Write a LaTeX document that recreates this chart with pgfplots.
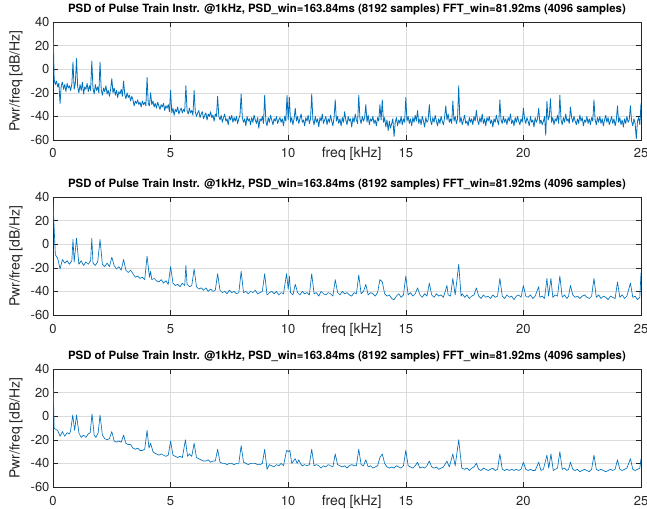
\documentclass[border=0pt]{standalone}
\usepackage{fontspec}
\setmainfont{TeX Gyre Heros}
\usepackage{pgfplots}
\pgfplotsset{compat=1.18}
\definecolor{mlblue}{rgb}{0,0.447,0.741}
\definecolor{axgray}{rgb}{0.15,0.15,0.15}
\pgfplotsset{
  psd/.style={
    width=588pt, height=118pt, scale only axis,
    xmin=0, xmax=25, ymin=-60, ymax=40,
    xtick={0,5,10,15,20,25}, ytick={-60,-40,-20,0,20,40},
    grid=major,
    major grid style={black!14, line width=0.5pt},
    axis line style={axgray, line width=0.5pt},
    tick style={axgray, line width=0.5pt},
    major tick length=5pt,
    tick align=inside,
    /pgf/number format/assume math mode=true,
    ticklabel style={font=\fontsize{13}{15}\selectfont, text=axgray},
    xticklabel style={anchor=base, yshift=-18pt},
    title style={font=\fontsize{11.4}{13}\selectfont\bfseries, at={(axis description cs:0.5,1)}, anchor=south, yshift=-3pt},
    title={PSD of Pulse Train Instr. @1kHz, PSD\_win=163.84ms (8192 samples) FFT\_win=81.92ms (4096 samples)},
    xlabel={freq [kHz]},
    ylabel={Pwr/freq [dB/Hz]},
    xlabel style={font=\fontsize{14}{16}\selectfont, text=axgray, at={(axis description cs:0.508,0)}, anchor=base, yshift=-18pt},
    ylabel style={font=\fontsize{14}{16}\selectfont, text=axgray, at={(axis description cs:-0.0629,0.5)}, anchor=center},
  },
  psdline/.style={mlblue, line width=0.65pt, mark=none, line join=round},
}
\begin{document}
\begin{tikzpicture}
\path[use as bounding box] (-53pt,-368pt) rectangle (594pt,140pt);
% ---------------- top -----------------
\begin{axis}[psd, at={(0pt,0pt)}, anchor=south west]
\addplot[psdline, line width=0.8pt] coordinates {
(0.00,38)(0.05,-9)(0.10,-13)(0.15,-10)(0.20,-15)(0.25,-12)(0.30,-29)(0.35,-14)(0.40,-11)(0.45,-17)(0.50,-13)(0.55,-19)(0.60,-12)(0.65,-16)(0.70,-14)(0.75,-18)(0.80,-13)(0.85,6)(0.90,-17)(0.95,-12)
(1.00,9)(1.05,-15)(1.10,-20)(1.15,-13)(1.20,-18)(1.25,-11)(1.30,-21)(1.35,-15)(1.40,-17)(1.45,-12)(1.50,-19)(1.55,-14)(1.60,-18)(1.65,7)(1.70,-16)(1.75,-21)(1.80,-13)(1.85,-18)(1.90,-15)(1.95,-20)
(2.00,6)(2.05,-17)(2.10,-22)(2.15,-16)(2.20,-19)(2.25,-14)(2.30,-21)(2.35,-18)(2.40,-23)(2.45,-17)(2.50,-8)(2.55,-20)(2.60,-16)(2.65,-22)(2.70,-18)(2.75,-24)(2.80,-19)(2.85,-21)(2.90,-17)(2.95,-23)
(3.00,-10)(3.05,-21)(3.10,-25)(3.15,-20)(3.20,-24)(3.25,-22)(3.30,-27)(3.35,-23)(3.40,-26)(3.45,-31)(3.50,-27)(3.55,-29)(3.60,-26)(3.65,-30)(3.70,-28)(3.75,-32)(3.80,-27)(3.85,-30)(3.90,-28)(3.95,-31)
(4.00,-7)(4.05,-29)(4.10,-31)(4.15,-20)(4.20,-30)(4.25,-27)(4.30,-32)(4.35,-29)(4.40,-33)(4.45,-28)(4.50,-31)(4.55,-34)(4.60,-30)(4.65,-32)(4.70,-29)(4.75,-35)(4.80,-31)(4.85,-33)(4.90,-30)(4.95,-36)
(5.00,-18)(5.05,-37)(5.10,-33)(5.15,-39)(5.20,-34)(5.25,-36)(5.30,-32)(5.35,-38)(5.40,-35)(5.45,-33)(5.50,-37)(5.55,-34)(5.60,-36)(5.65,-14)(5.70,-35)(5.75,-38)(5.80,-33)(5.85,-37)(5.90,-35)(5.95,-39)
(6.00,-18)(6.05,-36)(6.10,-40)(6.15,-37)(6.20,-35)(6.25,-41)(6.30,-38)(6.35,-36)(6.40,-42)(6.45,-39)(6.50,-37)(6.55,-43)(6.60,-38)(6.65,-40)(6.70,-36)(6.75,-41)(6.80,-39)(6.85,-44)(6.90,-38)(6.95,-40)
(7.00,-23)(7.05,-40)(7.10,-43)(7.15,-39)(7.20,-45)(7.25,-41)(7.30,-38)(7.35,-44)(7.40,-42)(7.45,-47)(7.50,-40)(7.55,-43)(7.60,-39)(7.65,-45)(7.70,-41)(7.75,-44)(7.80,-40)(7.85,-46)(7.90,-42)(7.95,-39)
(8.00,-21)(8.05,-41)(8.10,-45)(8.15,-42)(8.20,-48)(8.25,-40)(8.30,-44)(8.35,-42)(8.40,-47)(8.45,-41)(8.50,-45)(8.55,-39)(8.60,-43)(8.65,-46)(8.70,-41)(8.75,-50)(8.80,-42)(8.85,-44)(8.90,-40)(8.95,-46)
(9.00,-22)(9.05,-44)(9.10,-48)(9.15,-41)(9.20,-45)(9.25,-39)(9.30,-43)(9.35,-47)(9.40,-42)(9.45,-44)(9.50,-40)(9.55,-46)(9.60,-43)(9.65,-41)(9.70,-45)(9.75,-42)(9.80,-48)(9.85,-40)(9.90,-44)(9.95,-22)
(10.00,-43)(10.05,-24)(10.10,-45)(10.15,-41)(10.20,-47)(10.25,-42)(10.30,-33)(10.35,-44)(10.40,-40)(10.45,-46)(10.50,-42)(10.55,-38)(10.60,-45)(10.65,-43)(10.70,-48)(10.75,-41)(10.80,-44)(10.85,-39)(10.90,-46)(10.95,-42)
(11.00,-21)(11.05,-43)(11.10,-47)(11.15,-40)(11.20,-45)(11.25,-42)(11.30,-49)(11.35,-41)(11.40,-44)(11.45,-38)(11.50,-46)(11.55,-43)(11.60,-40)(11.65,-47)(11.70,-42)(11.75,-45)(11.80,-39)(11.85,-44)(11.90,-48)(11.95,-41)
(12.00,-26)(12.05,-44)(12.10,-40)(12.15,-46)(12.20,-42)(12.25,-48)(12.30,-41)(12.35,-45)(12.40,-36)(12.45,-43)(12.50,-47)(12.55,-40)(12.60,-44)(12.65,-42)(12.70,-49)(12.75,-41)(12.80,-45)(12.85,-38)(12.90,-43)(12.95,-46)
(13.00,-22)(13.05,-42)(13.10,-46)(13.15,-40)(13.20,-44)(13.25,-41)(13.30,-30)(13.35,-45)(13.40,-39)(13.45,-47)(13.50,-42)(13.55,-44)(13.60,-40)(13.65,-46)(13.70,-43)(13.75,-48)(13.80,-41)(13.85,-44)(13.90,-30)(13.95,-43)
(14.00,-26)(14.05,-45)(14.10,-41)(14.15,-49)(14.20,-43)(14.25,-52)(14.30,-44)(14.35,-50)(14.40,-46)(14.45,-42)(14.50,-57)(14.55,-45)(14.60,-41)(14.65,-48)(14.70,-43)(14.75,-46)(14.80,-40)(14.85,-47)(14.90,-42)(14.95,-45)
(15.00,-24)(15.05,-44)(15.10,-40)(15.15,-46)(15.20,-42)(15.25,-48)(15.30,-41)(15.35,-45)(15.40,-39)(15.45,-44)(15.50,-35)(15.55,-46)(15.60,-42)(15.65,-47)(15.70,-40)(15.75,-44)(15.80,-49)(15.85,-41)(15.90,-45)(15.95,-43)
(16.00,-30)(16.05,-43)(16.10,-47)(16.15,-41)(16.20,-45)(16.25,-39)(16.30,-44)(16.35,-48)(16.40,-42)(16.45,-46)(16.50,-40)(16.55,-44)(16.60,-47)(16.65,-41)(16.70,-31)(16.75,-43)(16.80,-38)(16.85,-45)(16.90,-42)(16.95,-46)
(17.00,-27)(17.05,-44)(17.10,-40)(17.15,-46)(17.20,-42)(17.25,-14)(17.30,-45)(17.35,-41)(17.40,-47)(17.45,-43)(17.50,-39)(17.55,-46)(17.60,-44)(17.65,-48)(17.70,-41)(17.75,-45)(17.80,-42)(17.85,-47)(17.90,-40)(17.95,-44)
(18.00,-35)(18.05,-43)(18.10,-47)(18.15,-41)(18.20,-45)(18.25,-38)(18.30,-46)(18.35,-42)(18.40,-48)(18.45,-41)(18.50,-44)(18.55,-40)(18.60,-46)(18.65,-43)(18.70,-49)(18.75,-42)(18.80,-45)(18.85,-39)(18.90,-44)(18.95,-47)
(19.00,-26)(19.05,-43)(19.10,-46)(19.15,-40)(19.20,-45)(19.25,-42)(19.30,-47)(19.35,-41)(19.40,-44)(19.45,-38)(19.50,-46)(19.55,-43)(19.60,-48)(19.65,-41)(19.70,-45)(19.75,-40)(19.80,-44)(19.85,-47)(19.90,-42)(19.95,-45)
(20.00,-33)(20.05,-42)(20.10,-46)(20.15,-41)(20.20,-44)(20.25,-48)(20.30,-40)(20.35,-45)(20.40,-43)(20.45,-49)(20.50,-41)(20.55,-45)(20.60,-42)(20.65,-33)(20.70,-46)(20.75,-43)(20.80,-47)(20.85,-44)(20.90,-40)(20.95,-56)
(21.00,-27)(21.05,-43)(21.10,-40)(21.15,-25)(21.20,-45)(21.25,-41)(21.30,-47)(21.35,-42)(21.40,-44)(21.45,-39)(21.50,-46)(21.55,-22)(21.60,-43)(21.65,-47)(21.70,-41)(21.75,-45)(21.80,-38)(21.85,-44)(21.90,-42)(21.95,-46)
(22.00,-32)(22.05,-41)(22.10,-45)(22.15,-40)(22.20,-44)(22.25,-47)(22.30,-42)(22.35,-46)(22.40,-39)(22.45,-44)(22.50,-41)(22.55,-48)(22.60,-43)(22.65,-45)(22.70,-40)(22.75,-46)(22.80,-42)(22.85,-47)(22.90,-41)(22.95,-44)
(23.00,-26)(23.05,-43)(23.10,-47)(23.15,-41)(23.20,-45)(23.25,-40)(23.30,-46)(23.35,-42)(23.40,-48)(23.45,-43)(23.50,-39)(23.55,-45)(23.60,-41)(23.65,-47)(23.70,-44)(23.75,-40)(23.80,-46)(23.85,-42)(23.90,-48)(23.95,-43)
(24.00,-31)(24.05,-45)(24.10,-41)(24.15,-47)(24.20,-43)(24.25,-49)(24.30,-42)(24.35,-46)(24.40,-40)(24.45,-45)(24.50,-43)(24.55,-31)(24.60,-44)(24.65,-48)(24.70,-42)(24.75,-46)(24.80,-59)(24.85,-44)(24.90,-41)(24.95,-47)
(25.00,-29)
};
\end{axis}
% ---------------- middle -----------------
\begin{axis}[psd, at={(0pt,-175pt)}, anchor=south west]
\addplot[psdline] coordinates {
(0.0,35)(0.1,-9)(0.2,-12)(0.3,-21)(0.4,-13)(0.5,-16)(0.6,-14)(0.7,-17)(0.8,-14)(0.85,4)(0.9,-15)
(1.0,5)(1.1,-17)(1.2,-14)(1.3,-18)(1.4,-15)(1.5,-17)(1.6,-14)(1.65,5)(1.7,-16)(1.8,-18)(1.9,-15)
(2.0,4)(2.1,-17)(2.2,-19)(2.3,-16)(2.4,-19)(2.5,-11)(2.6,-18)(2.7,-21)(2.8,-19)(2.9,-22)
(3.0,-13)(3.1,-22)(3.2,-24)(3.3,-22)(3.4,-25)(3.5,-28)(3.6,-27)(3.7,-29)(3.8,-28)(3.9,-30)
(4.0,-10)(4.1,-28)(4.15,-23)(4.2,-30)(4.3,-29)(4.4,-31)(4.5,-32)(4.6,-30)(4.7,-33)(4.8,-31)(4.9,-34)
(5.0,-19)(5.1,-33)(5.2,-35)(5.3,-34)(5.4,-36)(5.5,-33)(5.6,-35)(5.65,-18)(5.7,-34)(5.8,-36)(5.9,-35)
(6.0,-21)(6.1,-36)(6.2,-38)(6.3,-37)(6.4,-39)(6.5,-37)(6.6,-40)(6.7,-38)(6.8,-40)(6.9,-39)
(7.0,-25)(7.1,-39)(7.2,-41)(7.3,-40)(7.4,-42)(7.5,-39)(7.6,-41)(7.7,-40)(7.8,-42)(7.9,-41)
(8.0,-23)(8.1,-41)(8.2,-40)(8.3,-42)(8.4,-40)(8.5,-41)(8.6,-39)(8.7,-42)(8.8,-41)(8.9,-40)
(9.0,-25)(9.1,-43)(9.2,-41)(9.3,-40)(9.4,-42)(9.5,-40)(9.6,-43)(9.7,-41)(9.8,-42)(9.93,-25)
(10.0,-38)(10.05,-27)(10.1,-41)(10.2,-43)(10.3,-34)(10.4,-41)(10.5,-43)(10.6,-40)(10.7,-42)(10.8,-41)(10.9,-43)
(11.0,-25)(11.1,-42)(11.2,-41)(11.3,-44)(11.4,-40)(11.5,-42)(11.6,-43)(11.7,-41)(11.8,-42)(11.9,-44)
(12.0,-30)(12.1,-41)(12.2,-43)(12.3,-40)(12.4,-42)(12.5,-41)(12.6,-43)(12.7,-44)(12.8,-41)(12.9,-42)
(13.0,-26)(13.1,-42)(13.2,-40)(13.3,-34)(13.4,-43)(13.5,-41)(13.6,-42)(13.7,-44)(13.8,-41)(13.9,-30)
(14.0,-32)(14.1,-42)(14.2,-44)(14.3,-43)(14.4,-46)(14.5,-47)(14.6,-44)(14.7,-42)(14.8,-45)(14.9,-43)
(15.0,-27)(15.1,-43)(15.2,-41)(15.3,-44)(15.4,-42)(15.5,-37)(15.6,-43)(15.7,-45)(15.8,-42)(15.9,-44)
(16.0,-33)(16.1,-43)(16.2,-45)(16.3,-42)(16.4,-44)(16.5,-43)(16.6,-45)(16.75,-35)(16.8,-43)(16.9,-44)
(17.0,-29)(17.1,-43)(17.25,-17)(17.35,-44)(17.4,-42)(17.5,-45)(17.6,-43)(17.7,-46)(17.8,-44)(17.9,-43)
(18.0,-37)(18.1,-44)(18.2,-46)(18.3,-43)(18.4,-45)(18.5,-44)(18.6,-46)(18.7,-43)(18.8,-45)(18.9,-44)
(19.0,-29)(19.1,-44)(19.2,-46)(19.3,-43)(19.4,-45)(19.5,-44)(19.6,-47)(19.7,-44)(19.8,-43)(19.9,-45)
(20.0,-35)(20.1,-44)(20.2,-45)(20.3,-43)(20.4,-46)(20.5,-44)(20.65,-36)(20.7,-45)(20.8,-44)(20.9,-46)
(21.0,-29)(21.07,-44)(21.17,-29)(21.25,-45)(21.35,-43)(21.45,-44)(21.55,-27)(21.65,-45)(21.75,-43)(21.85,-46)(21.92,-44)
(22.0,-35)(22.1,-43)(22.2,-45)(22.3,-44)(22.4,-46)(22.5,-44)(22.6,-43)(22.7,-45)(22.8,-46)(22.9,-44)
(23.0,-29)(23.1,-45)(23.2,-43)(23.3,-46)(23.4,-44)(23.5,-45)(23.6,-47)(23.7,-44)(23.8,-45)(23.9,-46)
(24.0,-32)(24.1,-45)(24.2,-43)(24.3,-46)(24.4,-44)(24.55,-33)(24.65,-45)(24.75,-44)(24.85,-47)(24.95,-45)(25.0,-24)
};
\end{axis}
% ---------------- bottom -----------------
\begin{axis}[psd, at={(0pt,-347pt)}, anchor=south west]
\addplot[psdline] coordinates {
(0.0,30)(0.05,-10)(0.1,-11)(0.2,-12)(0.3,-17)(0.4,-13)(0.5,-17)(0.6,-14)(0.7,-15)(0.75,-12)(0.84,1)(0.92,-12)
(1.0,1)(1.1,-14)(1.2,-18)(1.3,-16)(1.4,-18)(1.5,-15)(1.58,-14)(1.66,2)(1.75,-16)(1.82,-18)(1.92,-14)
(2.0,1)(2.1,-16)(2.2,-19)(2.3,-20)(2.4,-19)(2.5,-13)(2.6,-21)(2.7,-22)(2.8,-21)(2.9,-22)
(3.0,-16)(3.1,-23)(3.2,-24)(3.3,-24)(3.4,-27)(3.5,-28)(3.6,-27)(3.7,-29)(3.8,-29)(3.9,-28)
(4.0,-12)(4.08,-27)(4.15,-23)(4.25,-30)(4.3,-31)(4.4,-32)(4.5,-33)(4.6,-32)(4.7,-33)(4.8,-34)(4.9,-33)
(5.0,-21)(5.1,-33)(5.2,-34)(5.3,-35)(5.4,-34)(5.5,-35)(5.63,-20)(5.72,-34)(5.8,-32)(5.9,-34)
(6.0,-23)(6.1,-35)(6.2,-36)(6.3,-37)(6.4,-38)(6.5,-38)(6.6,-37)(6.7,-39)(6.8,-38)(6.9,-38)
(7.0,-28)(7.1,-39)(7.2,-40)(7.3,-40)(7.4,-41)(7.5,-40)(7.6,-40)(7.7,-41)(7.8,-40)(7.9,-40)
(8.0,-25)(8.1,-39)(8.2,-40)(8.3,-41)(8.4,-40)(8.5,-40)(8.6,-40)(8.7,-41)(8.8,-41)(8.9,-40)
(9.0,-28)(9.1,-45)(9.2,-41)(9.3,-42)(9.4,-43)(9.5,-41)(9.6,-42)(9.7,-40)(9.8,-42)(9.93,-29)
(10.0,-30)(10.07,-29)(10.15,-40)(10.3,-36)(10.38,-40)(10.45,-37)(10.55,-41)(10.6,-42)(10.7,-41)(10.8,-42)(10.9,-41)
(11.0,-28)(11.1,-42)(11.2,-41)(11.3,-42)(11.4,-44)(11.5,-42)(11.6,-43)(11.7,-41)(11.8,-42)(11.9,-43)
(12.0,-32)(12.1,-41)(12.2,-42)(12.3,-43)(12.4,-42)(12.5,-44)(12.6,-42)(12.7,-41)(12.8,-42)(12.9,-42)
(13.0,-28)(13.1,-41)(13.2,-42)(13.3,-37)(13.4,-43)(13.5,-42)(13.6,-44)(13.7,-43)(13.8,-42)(13.9,-35)
(14.0,-32)(14.1,-40)(14.2,-43)(14.3,-44)(14.4,-43)(14.5,-44)(14.6,-42)(14.7,-43)(14.8,-44)(14.9,-42)
(15.0,-29)(15.1,-42)(15.2,-43)(15.3,-44)(15.4,-42)(15.5,-39)(15.6,-44)(15.7,-43)(15.8,-44)(15.9,-42)
(16.0,-38)(16.1,-43)(16.2,-44)(16.3,-43)(16.4,-45)(16.5,-44)(16.6,-43)(16.75,-38)(16.85,-43)
(17.0,-32)(17.1,-42)(17.25,-20)(17.38,-44)(17.5,-45)(17.6,-44)(17.7,-46)(17.8,-44)(17.9,-43)
(18.0,-40)(18.1,-45)(18.2,-46)(18.3,-44)(18.4,-45)(18.5,-46)(18.6,-45)(18.7,-44)(18.8,-46)(18.9,-45)
(19.0,-32)(19.1,-45)(19.2,-46)(19.3,-45)(19.4,-46)(19.5,-45)(19.6,-46)(19.7,-45)(19.8,-46)(19.9,-45)
(20.0,-39)(20.1,-45)(20.2,-46)(20.3,-45)(20.4,-46)(20.5,-46)(20.65,-39)(20.75,-46)(20.85,-45)
(21.0,-33)(21.08,-44)(21.17,-32)(21.27,-46)(21.35,-45)(21.45,-44)(21.55,-30)(21.65,-45)(21.75,-44)(21.85,-46)(21.92,-45)
(22.0,-39)(22.1,-45)(22.2,-46)(22.3,-45)(22.4,-47)(22.5,-46)(22.6,-45)(22.7,-46)(22.8,-47)(22.9,-45)
(23.0,-33)(23.1,-45)(23.2,-46)(23.3,-45)(23.4,-46)(23.5,-47)(23.6,-46)(23.7,-45)(23.8,-46)(23.9,-45)
(24.0,-37)(24.1,-45)(24.2,-46)(24.3,-45)(24.4,-44)(24.55,-36)(24.65,-45)(24.75,-46)(24.85,-45)(24.95,-44)(25.0,-36)
};
\end{axis}
\end{tikzpicture}
\end{document}
